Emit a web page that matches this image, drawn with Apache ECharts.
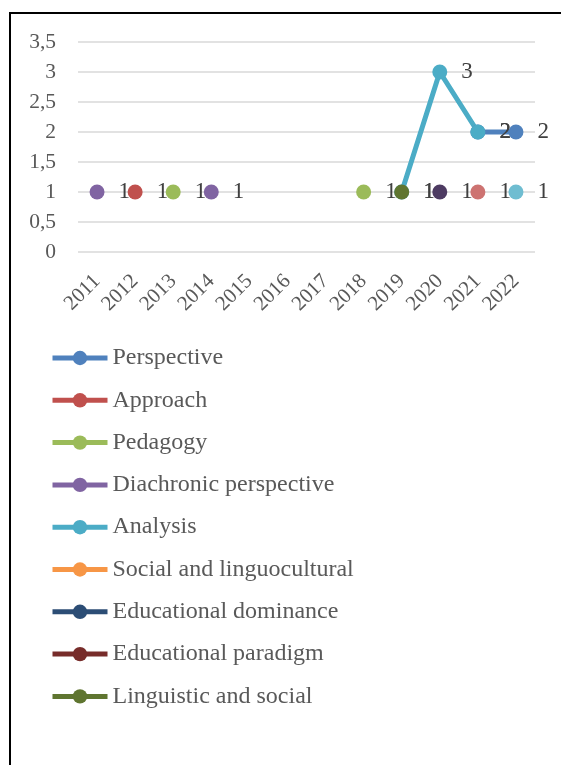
<!DOCTYPE html>
<html>
<head>
<meta charset="utf-8">
<script src="https://cdn.jsdelivr.net/npm/echarts@6/dist/echarts.min.js"></script>
<style>
  html, body { margin: 0; padding: 0; background: #fff; }
  #frame { position: absolute; left: 9px; top: 12px; width: 600px; height: 800px;
           border-left: 2px solid #000; border-top: 2px solid #000; }
  #chart { position: absolute; left: 0; top: 0; width: 561px; height: 765px; }
</style>
</head>
<body>
<div id="frame"></div>
<div id="chart"></div>
<script>
// categories
var years = ['2011', '2012', '2013', '2014', '2015', '2016', '2017', '2018', '2019', '2020', '2021', '2022']
var yTicks = [0, 0.5, 1, 1.5, 2, 2.5, 3, 3.5]

// series values (null = no point)
var perspective = [null, null, null, null, null, null, null, null, null, null, 2, 2]
var approach = [null, 1, null, null, null, null, null, null, null, null, null, null]
var pedagogy = [null, null, 1, null, null, null, null, 1, null, null, null, null]
var diachronic = [1, null, null, 1, null, null, null, null, null, null, null, null]
var analysis = [null, null, null, null, null, null, null, null, 1, 3, 2, null]
var socialLing = [null, null, null, null, null, null, null, null, null, null, null, null]
var eduDominance = [null, null, null, null, null, null, null, null, null, null, null, null]
var eduParadigm = [null, null, null, null, null, null, null, null, null, null, null, null]
var lingSocial = [null, null, null, null, null, null, null, null, 1, null, null, null]
// series whose legend entries fall below the visible area
var extraA = [null, null, null, null, null, null, null, null, null, 1, null, null]
var extraB = [null, null, null, null, null, null, null, null, null, null, 1, null]
var extraC = [null, null, null, null, null, null, null, null, null, null, null, 1]

var seriesDefs = [
  { name: 'Perspective', data: perspective, color: '#4F81BD' },
  { name: 'Approach', data: approach, color: '#C0504D' },
  { name: 'Pedagogy', data: pedagogy, color: '#9BBB59' },
  { name: 'Diachronic perspective', data: diachronic, color: '#8064A2' },
  { name: 'Analysis', data: analysis, color: '#4BACC6' },
  { name: 'Social and linguocultural', data: socialLing, color: '#F79646' },
  { name: 'Educational dominance', data: eduDominance, color: '#2C4D75' },
  { name: 'Educational paradigm', data: eduParadigm, color: '#772C2A' },
  { name: 'Linguistic and social', data: lingSocial, color: '#5F7530' },
  { name: 'extra-10', data: extraA, color: '#4D3B62' },
  { name: 'extra-14', data: extraB, color: '#CD7371' },
  { name: 'extra-17', data: extraC, color: '#6FBDD1' }
]

var font = '"Liberation Serif", "Times New Roman", serif'

var chart = echarts.init(document.getElementById('chart'))

var seriesArr = seriesDefs.map(function (s) {
  return {
    name: s.name,
    type: 'line',
    data: s.data,
    connectNulls: false,
    symbol: 'circle',
    symbolSize: 15,
    lineStyle: { width: 5, color: s.color },
    itemStyle: { color: s.color },
    label: {
      show: true,
      position: 'right',
      distance: 14,
      fontFamily: font,
      fontSize: 23,
      color: '#404040'
    },
    emphasis: { disabled: true },
    animation: false
  }
})

var option = {
  backgroundColor: 'transparent',
  grid: { left: 78, right: 26, top: 42, bottom: 513, containLabel: false },
  legend: {
    orient: 'vertical',
    left: 45,
    top: 341,
    data: seriesDefs.slice(0, 9).map(function (s) { return s.name }),
    itemWidth: 55,
    itemHeight: 18,
    itemGap: 18.3,
    lineStyle: { width: 5 },
    textStyle: { fontFamily: font, fontSize: 24, color: '#595959', lineHeight: 24 },
    selectedMode: false
  },
  xAxis: {
    type: 'category',
    data: years,
    boundaryGap: true,
    axisLine: { show: false },
    axisTick: { show: false },
    axisLabel: {
      rotate: 45,
      interval: 0,
      margin: 26,
      fontFamily: font,
      fontSize: 21,
      color: '#595959'
    }
  },
  yAxis: {
    type: 'value',
    min: yTicks[0],
    max: yTicks[yTicks.length - 1],
    interval: 0.5,
    axisLine: { show: false },
    axisTick: { show: false },
    splitLine: { lineStyle: { color: '#D9D9D9', width: 1.5 } },
    axisLabel: {
      margin: 22,
      fontFamily: font,
      fontSize: 21.5,
      color: '#595959',
      formatter: function (v) { return String(v).replace('.', ',') }
    }
  },
  series: seriesArr
}

chart.setOption(option)
</script>
</body>
</html>
